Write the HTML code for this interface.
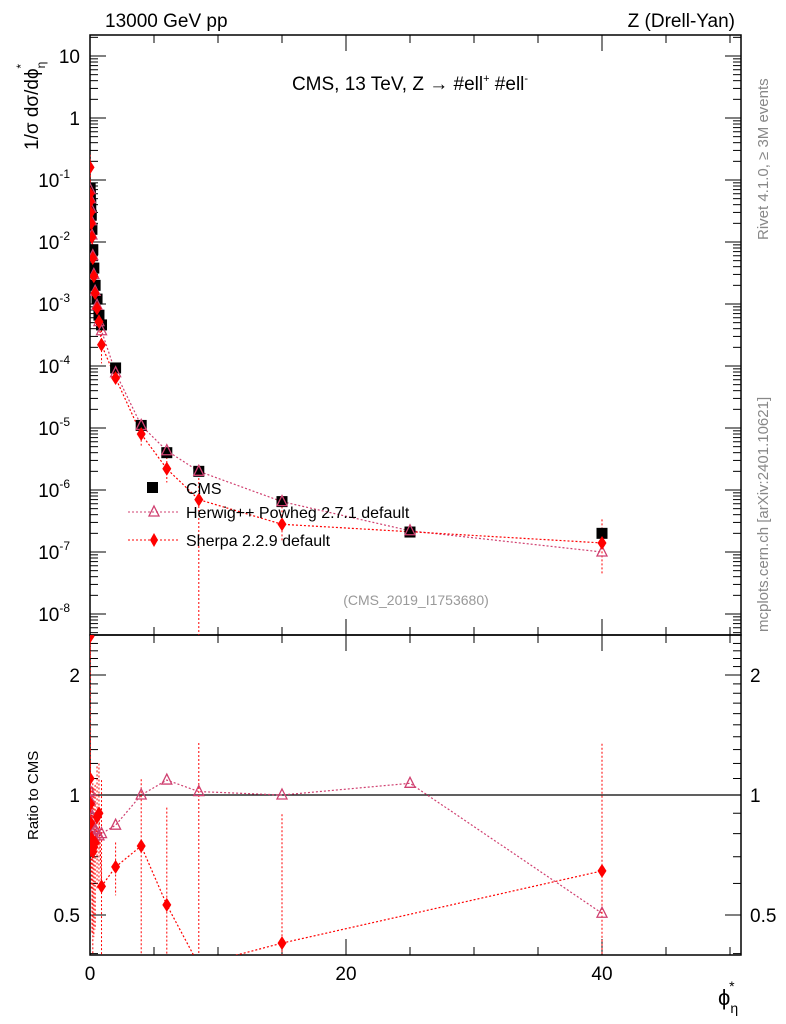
<!DOCTYPE html>
<html><head><meta charset="utf-8">
<style>
html,body{margin:0;background:#fff;width:786px;height:1024px;overflow:hidden}
svg{font-family:"Liberation Sans",sans-serif;display:block}
</style></head><body>
<svg id="c" width="786" height="1024" xmlns="http://www.w3.org/2000/svg">
<g id="frame"></g>
<g id="marks"></g>
<g id="texts">
<text x="105" y="27" font-size="19">13000 GeV pp</text>
<text x="735" y="27" font-size="19" text-anchor="end">Z (Drell-Yan)</text>
<text x="410" y="90" font-size="19" text-anchor="middle">CMS, 13 TeV, Z →  #ell<tspan font-size="11" dy="-8">+</tspan><tspan dy="8"> #ell</tspan><tspan font-size="11" dy="-8">-</tspan></text>
<text x="416" y="605" font-size="14" fill="#999" text-anchor="middle">(CMS_2019_I1753680)</text>
<text transform="translate(768,240) rotate(-90)" font-size="15" fill="#888">Rivet 4.1.0, ≥ 3M events</text>
<text transform="translate(768,632) rotate(-90)" font-size="15" fill="#888">mcplots.cern.ch [arXiv:2401.10621]</text>
<text transform="translate(38,150) rotate(-90)" font-size="19">1/σ dσ/dϕ<tspan font-size="12" dy="7">η</tspan><tspan font-size="12" dy="-20" dx="-7">*</tspan></text>
<text transform="translate(38,840) rotate(-90)" font-size="15">Ratio to CMS</text>
<text x="718" y="1005" font-size="22">ϕ<tspan font-size="14" dy="8">η</tspan><tspan font-size="14" dy="-22" dx="-9">*</tspan></text>
</g>
<g id="legend">
<rect x="147" y="482" width="11" height="11" fill="#000"/>
<text x="186" y="494" font-size="16">CMS</text>
<line x1="128" y1="512" x2="180" y2="512" stroke="#d04070" stroke-dasharray="2,2"/>
<path d="M154,506 L159,516 L149,516 Z" fill="none" stroke="#d04070" stroke-width="1.3"/>
<text x="186" y="518" font-size="16">Herwig++ Powheg 2.7.1 default</text>
<line x1="128" y1="540" x2="180" y2="540" stroke="#f00" stroke-dasharray="2,2"/>
<path d="M154,533 L158,540 L154,547 L150,540 Z" fill="#f00"/>
<text x="186" y="546" font-size="16">Sherpa 2.2.9 default</text>
</g>
</svg>
<script>
const xVals=[0.01,0.03,0.06,0.1,0.15,0.22,0.3,0.4,0.55,0.7,0.9,2,4,6,8.5,15,25,40];
const cmsVals=[0.074,0.057,0.04,0.027,0.016,0.0075,0.0038,0.002,0.0012,6.6e-4,4.6e-4,9.3e-5,1.1e-5,4e-6,2e-6,6.5e-7,2.1e-7,2e-7];
const herwigVals=[0.07,0.05,0.035,0.022,0.013,0.006,0.003,0.0016,9.5e-4,5.2e-4,3.7e-4,7.8e-5,1.1e-5,4.3e-6,2e-6,6.5e-7,2.2e-7,1e-7];
const sherpaX=[0.005,0.01,0.03,0.06,0.1,0.15,0.22,0.3,0.4,0.55,0.7,0.9,2,4,6,8.5,15,40];
const sherpaVals=[0.16,0.06,0.045,0.03,0.02,0.012,0.0055,0.0028,0.0015,8.5e-4,5.2e-4,2.2e-4,6.4e-5,8e-6,2.2e-6,7e-7,2.8e-7,1.4e-7];
const herwigRatio=[0.97,1.02,0.9,0.85,0.88,0.8,0.78,0.82,0.8,0.79,0.8,0.84,1.0,1.09,1.02,1.0,1.07,0.505];
const sherpaRatio=[2.5,1.1,0.95,0.85,0.78,0.75,0.72,0.74,0.76,0.88,0.9,0.59,0.66,0.745,0.53,0.35,0.425,0.645];
const sherpaErr=[0.3,0.3,0.25,0.2,0.2,0.3,0.35,0.3,0.3,0.3,0.3,0.5,0.1,0.35,0.4,1.0,0.47,0.7];
const xTickLabels=["0","20","40"];
const NS="http://www.w3.org/2000/svg";
const L=90,R=741,T=35,M=635,B=955;
const X=v=>L+v*12.8;
const Y=v=>56-(Math.log10(v)-1)*62;
const RY=v=>795-Math.log10(v)*398.6;
const clamp=(y,a,b)=>Math.max(a,Math.min(b,y));
const marks=document.getElementById('marks'),frame=document.getElementById('frame');
function el(p,tag,a){const e=document.createElementNS(NS,tag);for(const k in a)e.setAttribute(k,a[k]);p.appendChild(e);return e;}
let f1=el(frame,'rect',{x:L,y:T,width:R-L,height:M-T,fill:'none',stroke:'#000','stroke-width':1.5});


let f2=el(frame,'rect',{x:L,y:M,width:R-L,height:B-M,fill:'none',stroke:'#000','stroke-width':1.5});


let one=el(frame,'line',{x1:L,x2:R,y1:RY(1),y2:RY(1),stroke:'#000','stroke-width':1.2});


for(let v=0;v<=50;v+=5){const big=v%20==0,len=big?16:8;
 for(const [y0,d] of [[B,-1],[M,1],[M,-1],[T,1]]){el(frame,'line',{x1:X(v),x2:X(v),y1:y0,y2:y0+d*len,stroke:'#000'});}}
xTickLabels.forEach((s,i)=>{const t=el(frame,'text',{x:X(i*20),y:980,'font-size':19,'text-anchor':'middle'});t.textContent=s;
 
 });
for(let e=-9;e<=1;e++){for(let m=1;m<10;m++){const v=m*Math.pow(10,e),y=Y(v);if(y<T||y>M)continue;const len=m==1?16:8;
 el(frame,'line',{x1:L,x2:L+len,y1:y,y2:y,stroke:'#000'});el(frame,'line',{x1:R,x2:R-len,y1:y,y2:y,stroke:'#000'});}}
const yLabs=[[10,"10",""],[1,"1",""]];
for(let e=-1;e>=-8;e--)yLabs.push([Math.pow(10,e),"10",String(e)]);
yLabs.forEach(([v,b,s])=>{const t=el(frame,'text',{x:s?70:80,y:Y(v)+7,'font-size':19,'text-anchor':'end'});t.textContent=b;
 if(s){const ts=el(t,'tspan',{'font-size':12,dy:-9});ts.textContent=s;}
 
 });
for(let v=0.4;v<=2.5;v+=0.1){const vv=Math.round(v*10)/10,y=RY(vv);if(y<M||y>B)continue;const big=(vv==0.5||vv==1||vv==2),len=big?16:8;
 el(frame,'line',{x1:L,x2:L+len,y1:y,y2:y,stroke:'#000'});el(frame,'line',{x1:R,x2:R-len,y1:y,y2:y,stroke:'#000'});}
[[2,"2"],[1,"1"],[0.5,"0.5"]].forEach(([v,s])=>{for(const [x,a] of [[80,'end'],[750,'start']]){const t=el(frame,'text',{x:x,y:RY(v)+7,'font-size':19,'text-anchor':a});t.textContent=s;
 
 }});
const defs=el(document.getElementById('c'),'defs',{});
const c1=el(defs,'clipPath',{id:'ct'});el(c1,'rect',{x:L,y:T,width:R-L,height:M-T});
const c2=el(defs,'clipPath',{id:'cb'});el(c2,'rect',{x:L,y:M,width:R-L,height:B-M});
const gt=el(marks,'g',{'clip-path':'url(#ct)'}),gb=el(marks,'g',{'clip-path':'url(#cb)'});
function poly(g,pts,col,name){const p=el(g,'polyline',{points:pts.map(p=>p.join(',')).join(' '),fill:'none',stroke:col,'stroke-width':1.2,'stroke-dasharray':'2,2'});
 
 }
function tri(g,x,y,name){const p=el(g,'path',{d:`M${x},${y-6} L${x+5},${y+4} L${x-5},${y+4} Z`,fill:'none',stroke:'#d04070','stroke-width':1.3});
 
 }
function dia(g,x,y,name){const p=el(g,'path',{d:`M${x},${y-7} L${x+4.5},${y} L${x},${y+7} L${x-4.5},${y} Z`,fill:'#f00'});
 
 }
poly(gt,xVals.map((x,i)=>[X(x),Y(herwigVals[i])]),'#d04070','herwig-line');
poly(gt,sherpaX.map((x,i)=>[X(x),Y(sherpaVals[i])]),'#f00','sherpa-line');
sherpaX.forEach((x,i)=>{const e=el(gt,'line',{x1:X(x),x2:X(x),y1:clamp(Y(sherpaVals[i]*(1+sherpaErr[i]*2)),T,M),y2:clamp(Y(Math.max(1e-12,sherpaVals[i]*(1-sherpaErr[i]))),T,M),stroke:'#f00','stroke-dasharray':'2,2'});
 
 });
xVals.forEach((x,i)=>{const r=el(gt,'rect',{x:X(x)-5.5,y:Y(cmsVals[i])-5.5,width:11,height:11,fill:'#000'});
 
 });
xVals.forEach((x,i)=>tri(gt,X(x),Y(herwigVals[i]),'herwig-point'));
sherpaX.forEach((x,i)=>dia(gt,X(x),Y(sherpaVals[i]),'sherpa-point'));
poly(gb,xVals.map((x,i)=>[X(x),RY(herwigRatio[i])]),'#d04070','herwig-ratio-line');
poly(gb,sherpaX.map((x,i)=>[X(x),clamp(RY(sherpaRatio[i]),M-10,B+10)]),'#f00','sherpa-ratio-line');
sherpaX.forEach((x,i)=>{const e=el(gb,'line',{x1:X(x),x2:X(x),y1:clamp(RY(sherpaRatio[i]+sherpaErr[i]),M,B),y2:clamp(RY(Math.max(0.05,sherpaRatio[i]-sherpaErr[i])),M,B),stroke:'#f00','stroke-dasharray':'2,2'});
 
 });
xVals.forEach((x,i)=>tri(gb,X(x),RY(herwigRatio[i]),'herwig-ratio-point'));
sherpaX.forEach((x,i)=>{const y=RY(sherpaRatio[i]);if(y>M-8&&y<B+8)dia(gb,X(x),y,'sherpa-ratio-point');});
</script>
</body></html>
